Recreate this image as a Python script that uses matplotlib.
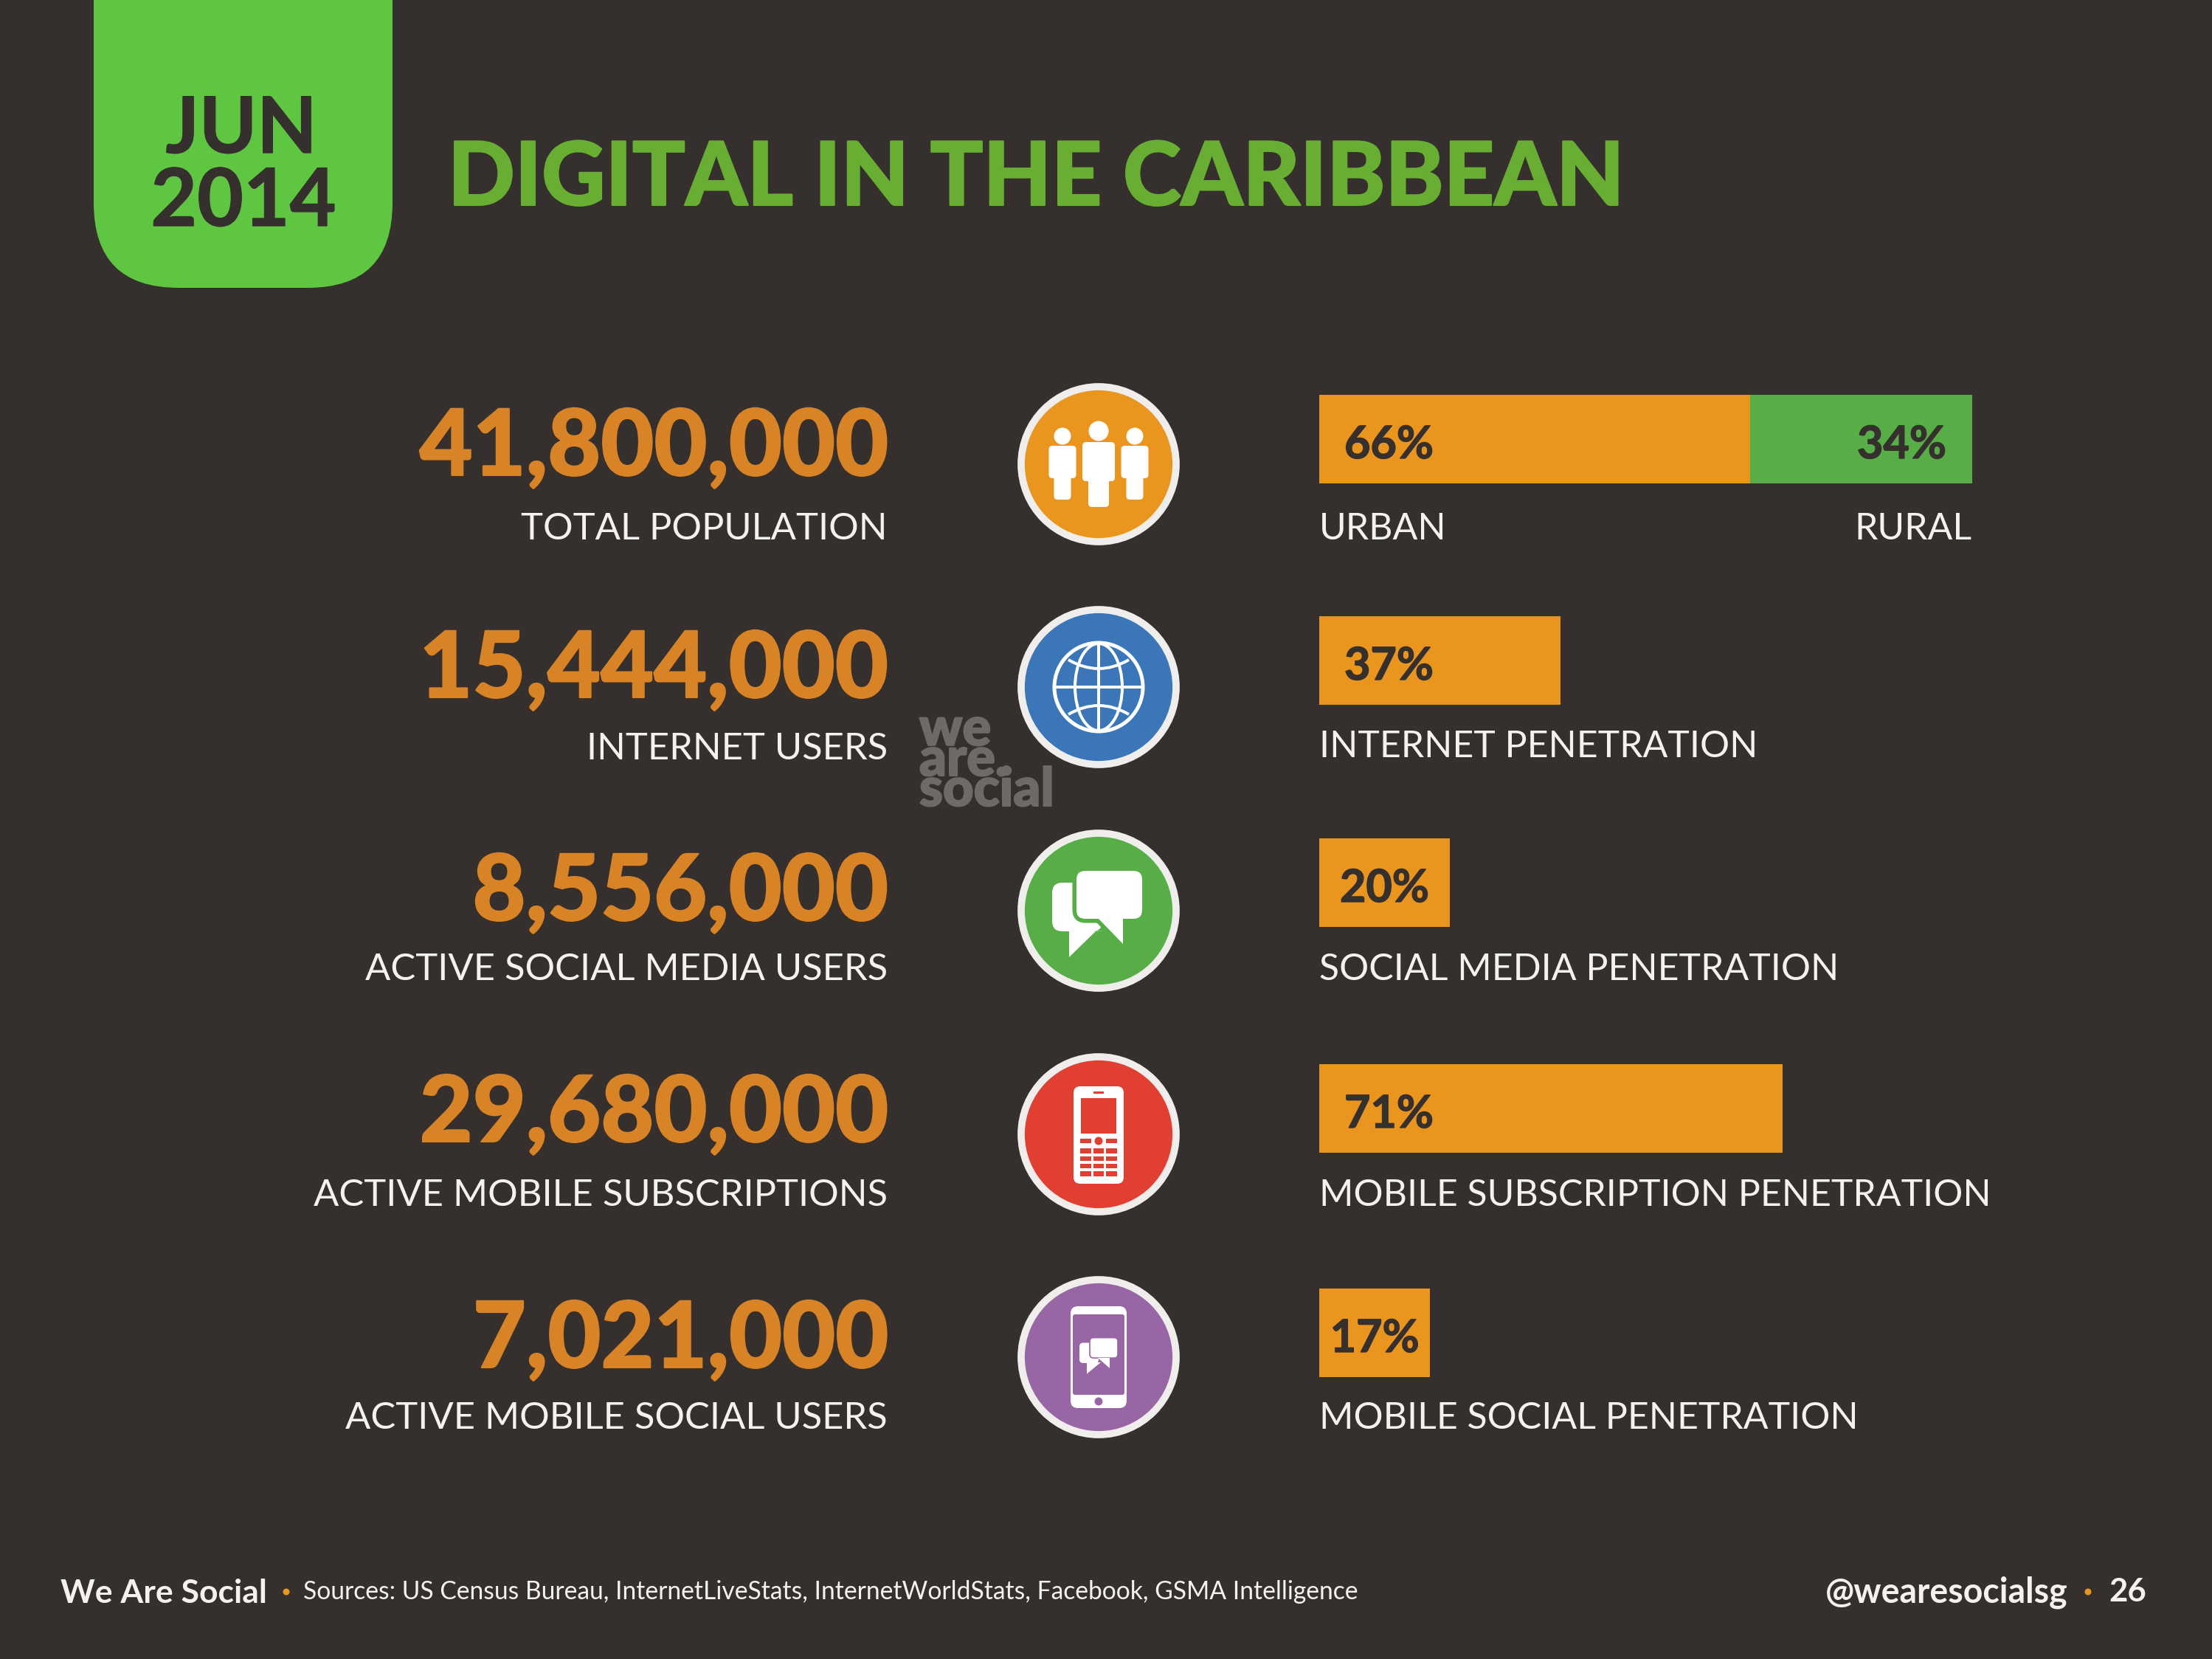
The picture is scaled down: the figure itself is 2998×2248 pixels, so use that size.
import matplotlib
matplotlib.use("Agg")
import matplotlib.pyplot as plt
from matplotlib.patches import Circle, Ellipse, FancyBboxPatch, Polygon, PathPatch, Rectangle
from matplotlib.path import Path
from matplotlib.patheffects import withStroke

# values
totals = ["41,800,000", "15,444,000", "8,556,000", "29,680,000", "7,021,000"]
total_labels = ["TOTAL POPULATION", "INTERNET USERS", "ACTIVE SOCIAL MEDIA USERS",
                "ACTIVE MOBILE SUBSCRIPTIONS", "ACTIVE MOBILE SOCIAL USERS"]
share_labels = ["URBAN", "INTERNET PENETRATION", "SOCIAL MEDIA PENETRATION",
                "MOBILE SUBSCRIPTION PENETRATION", "MOBILE SOCIAL PENETRATION"]
shares = [66, 37, 20, 71, 17]
rural_share = 34

BG = "#352f2d"
ORANGE = "#ea961e"
NUM_ORANGE = "#d98327"
BAR_GREEN = "#57ae47"
WHITE = "#f4f2f0"
RING = "#efeeec"
icon_colors = [ORANGE, "#3b76b8", BAR_GREEN, "#e23f33", "#9966a5"]

W, H = 2998, 2248
FONT = "Lato"

# layout in pixels of the slide
number_base = [644, 945, 1247, 1547, 1853]
label_mid = [717, 1015, 1314, 1620, 1922]
bar_mid = [595, 895, 1196, 1502, 1806]
circle_mid = [629, 931, 1234, 1537, 1839]
pct_x = [1822, 1822, None, 1822, None]
CX = 1489

fig = plt.figure(figsize=(W / 100, H / 100), dpi=100, facecolor=BG)
ax = fig.add_axes([0, 0, 1, 1])
ax.set_xlim(0, W)
ax.set_ylim(H, 0)
ax.axis("off")
ax.set_zorder(2)


def txt(x, y, s, size, color=WHITE, weight="normal", ha="left", va="baseline", heavy=0, **kw):
    t = ax.text(x, y, s, fontsize=size, color=color, fontweight=weight, ha=ha, va=va,
                family=FONT, **kw)
    if heavy:
        # the slide's display face is a little heavier than Lato
        t.set_path_effects([withStroke(linewidth=heavy, foreground=color)])
    return t


def rbox(x0, y0, x1, y1, r, color, zorder=3, ec="none", lw=0):
    ax.add_patch(FancyBboxPatch((x0 + r, y0 + r), x1 - x0 - 2 * r, y1 - y0 - 2 * r,
                                boxstyle=f"round,pad={r},rounding_size={r}",
                                fc=color, ec=ec, lw=lw, zorder=zorder))


def people(cx, cy):
    for dx, head_y, head_r, t0, t1, tw, leg_end, lw_ in [
            (0, -45, 13.5, -30, 23, 22, 58, 14),
            (-49, -38, 11.5, -25, 19, 18.5, 48, 11.5),
            (49, -38, 11.5, -25, 19, 18.5, 48, 11.5)]:
        ax.add_patch(Circle((cx + dx, cy + head_y), head_r, fc="white", ec="none", zorder=3))
        rbox(cx + dx - tw, cy + t0, cx + dx + tw, cy + t1, 5, "white")
        rbox(cx + dx - lw_, cy + t0 + 10, cx + dx + lw_, cy + leg_end, 5, "white")


def globe(cx, cy):
    lw = 3.6
    ax.add_patch(Circle((cx, cy), 60, fc="none", ec="white", lw=lw, zorder=3))
    ax.add_patch(Ellipse((cx, cy), 64, 118, fc="none", ec="white", lw=lw * 0.8, zorder=3))
    ax.plot([cx - 60, cx + 60], [cy, cy], color="white", lw=lw * 0.8, zorder=3)
    ax.plot([cx, cx], [cy - 60, cy + 60], color="white", lw=lw * 0.8, zorder=3)
    for sgn in (-1, 1):
        verts = [(cx - 41, cy + sgn * 37), (cx, cy + sgn * 13), (cx + 41, cy + sgn * 37)]
        ax.add_patch(PathPatch(Path(verts, [Path.MOVETO, Path.CURVE3, Path.CURVE3]),
                               fc="none", ec="white", lw=lw * 0.8, zorder=3))


def chat(cx, cy, color):
    rbox(cx - 63, cy - 38, cx + 5, cy + 28, 14, "white")
    ax.add_patch(Polygon([(cx - 40, cy + 26), (cx - 40, cy + 63), (cx - 4, cy + 28), (cx + 7, cy + 28)],
                         fc="white", ec="none", zorder=3))
    rbox(cx - 30, cy - 54, cx + 59, cy + 11, 12, color, zorder=4, ec=color, lw=8)
    ax.add_patch(Polygon([(cx - 8, cy + 11), (cx + 33, cy + 52), (cx + 36, cy + 11)],
                         fc=color, ec="none", zorder=4))
    rbox(cx - 30, cy - 54, cx + 59, cy + 11, 12, "white", zorder=5)
    ax.add_patch(Polygon([(cx - 1, cy + 10), (cx + 33, cy + 45), (cx + 33, cy + 10)],
                         fc="white", ec="none", zorder=5))


def mobile(cx, cy, color):
    rbox(cx - 34, cy - 65, cx + 34, cy + 67, 9, "white")
    ax.add_patch(Rectangle((cx - 24, cy - 49), 48, 48, fc=color, ec="none", zorder=4))
    ax.add_patch(Rectangle((cx - 7, cy - 58), 14, 2.5, fc=color, ec="none", zorder=4))
    ax.add_patch(Circle((cx, cy + 9), 5.5, fc=color, ec="none", zorder=4))
    ax.add_patch(Rectangle((cx - 24.5, cy + 6), 15, 5.5, fc=color, ec="none", zorder=4))
    ax.add_patch(Rectangle((cx + 10, cy + 6), 15, 5.5, fc=color, ec="none", zorder=4))
    for key_y in (19, 29.5, 39.5, 50.3):
        for key_x in (-24.5, -7, 10.3):
            ax.add_patch(Rectangle((cx + key_x, cy + key_y), 14.4, 6.8, fc=color, ec="none", zorder=4))


def smartphone(cx, cy, color):
    rbox(cx - 38, cy - 69, cx + 38, cy + 69, 10, "white")
    rbox(cx - 35, cy - 58, cx + 35, cy + 51, 3, color, zorder=4)
    ax.add_patch(Circle((cx, cy + 60), 5.5, fc=color, ec="none", zorder=5))
    rbox(cx - 26, cy - 19.5, cx, cy + 8, 5, "white", zorder=5)
    ax.add_patch(Polygon([(cx - 16, cy + 7), (cx - 16, cy + 22.6), (cx + 3, cy + 7)],
                         fc="white", ec="none", zorder=5))
    rbox(cx - 12, cy - 26.4, cx + 26, cy + 1.1, 5, "white", zorder=6, ec=color, lw=1.2)
    ax.add_patch(Polygon([(cx - 1, cy + 1), (cx + 15, cy + 15), (cx + 15, cy + 1)],
                         fc="white", ec="none", zorder=6))


# date badge and title
rbox(127, -300, 532, 390, 115, "#5fc642", zorder=1)
txt(327, 207, "JUN", 76, color=BG, weight="bold", ha="center", heavy=1)
txt(330, 306, "2014", 78, color=BG, weight="bold", ha="center", heavy=1)
txt(607, 278, "DIGITAL IN THE CARIBBEAN", 86, color="#68ae33", weight="black", heavy=1.5)

# left column
for num, base, lab, mid in zip(totals, number_base, total_labels, label_mid):
    txt(1204, base, num, 89.5, color=NUM_ORANGE, weight="black", ha="right", heavy=1.5)
    txt(1203, mid, lab, 36.5, ha="right", va="center")

# we are social mark
txt(1246, 1092, "we\nare.\nsocial", 52, color="#6e6a68", weight="black", linespacing=0.52, heavy=1.5)

# circles with icons
for y, col in zip(circle_mid, icon_colors):
    ax.add_patch(Circle((CX, y), 105, fc=col, ec=RING, lw=7, zorder=2))
people(CX, circle_mid[0])
globe(CX, circle_mid[1])
chat(CX, circle_mid[2], icon_colors[2])
mobile(CX, circle_mid[3], icon_colors[3])
smartphone(CX, circle_mid[4], icon_colors[4])

# bars, 0-100% across the width of the top bar
bar_ax = fig.add_axes([1788 / W, 0, 885 / W, 1])
bar_ax.set_xlim(0, 100)
bar_ax.set_ylim(H, 0)
bar_ax.axis("off")
bar_ax.barh(bar_mid, shares, height=120, color=ORANGE)
bar_ax.barh(bar_mid[0], rural_share, left=shares[0], height=120, color=BAR_GREEN)

# percent labels
for i, (v, y) in enumerate(zip(shares, bar_mid)):
    s = f"{v}%"
    if pct_x[i] is None:
        t = bar_ax.text(v / 2, y + 8, s, fontsize=44, fontweight="bold", color=BG, ha="center",
                        va="center", family=FONT, zorder=5)
        t.set_path_effects([withStroke(linewidth=1, foreground=BG)])
    else:
        txt(pct_x[i], y + 8, s, 44, color=BG, weight="bold", va="center", heavy=1)
txt(2638, bar_mid[0] + 8, f"{rural_share}%", 44, color=BG, weight="bold", ha="right", va="center", heavy=1)

# right labels
right_mid = [717, 1012, 1314, 1620, 1922]
for lab, mid in zip(share_labels, right_mid):
    txt(1788, mid, lab, 36, va="center")
txt(2673, right_mid[0], "RURAL", 36, ha="right", va="center")

# footer
txt(82, 2172, "We Are Social", 32, weight="bold")
ax.add_patch(Circle((388, 2157), 4.5, fc=ORANGE, ec="none"))
txt(411, 2167, "Sources: US Census Bureau, InternetLiveStats, InternetWorldStats, Facebook, GSMA Intelligence", 24.2)
txt(2803, 2172, "@wearesocialsg", 33.5, weight="bold", ha="right")
ax.add_patch(Circle((2830, 2157), 4.5, fc=ORANGE, ec="none"))
txt(2909, 2170, "26", 31.5, weight="bold", ha="right")

fig.savefig("out.png", dpi=100, facecolor=BG)
